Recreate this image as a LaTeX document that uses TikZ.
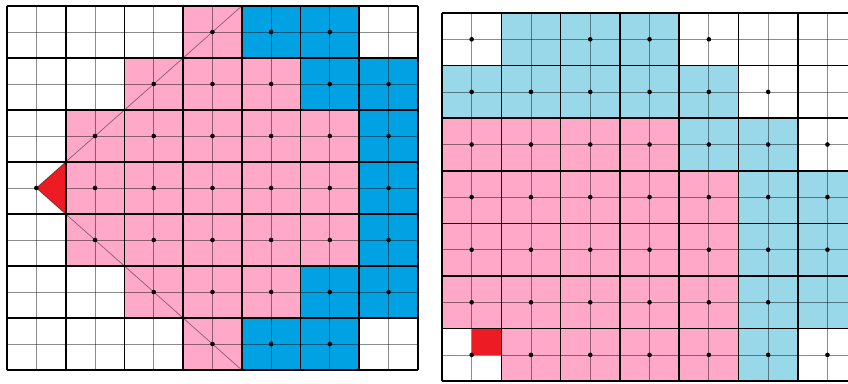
\documentclass[tikz,border=0pt]{standalone}
\usepackage{xcolor}
\usepackage{tikz}

\definecolor{P}{RGB}{255,168,200}
\definecolor{B}{RGB}{0,162,228}
\definecolor{L}{RGB}{153,216,232}
\colorlet{W}{white}
\definecolor{hit}{RGB}{237,28,36}

\begin{document}
\begin{tikzpicture}[
    heavy/.style={line width=1.6pt, black},
    fine/.style={line width=0.8pt, black, opacity=0.45},
    ray/.style={line width=0.7pt, black, opacity=0.45},
    spot/.style={black}
  ]
  \useasboundingbox (0,0) rectangle (848pt,-383pt);
  \clip (0,0) rectangle (848pt,-383pt);

  % left grid
  \begin{scope}[x=58.7pt, y=-52pt, shift={(7pt,-6pt)}]
    \foreach \cells [count=\row from 0] in {
        {W,W,W,P,B,B,W},
        {W,W,P,P,P,B,B},
        {W,P,P,P,P,P,B},
        {W,P,P,P,P,P,B},
        {W,P,P,P,P,P,B},
        {W,W,P,P,P,B,B},
        {W,W,W,P,B,B,W}}
      \foreach \fc [count=\col from 0] in \cells
        \fill[\fc] (\col,\row) rectangle ++(1,1);
    \foreach \k in {0.5,1.5,...,6.5} {
      \draw[fine] (\k,0) -- (\k,7);
      \draw[fine] (0,\k) -- (7,\k);
    }
    \coordinate (eye) at (0.5,3.5);
    \coordinate (rayup) at (4,0);
    \coordinate (raydown) at (4,7);
    \fill[hit] (eye) -- (1,3) -- (1,4) -- cycle;
    \draw[ray] (rayup) -- (eye) -- (raydown);
    \foreach \k in {0,...,7} {
      \draw[heavy] (\k,0) -- (\k,7);
      \draw[heavy] (0,\k) -- (7,\k);
    }
    \foreach \row/\cols in {0/{3,4,5}, 1/{2,...,6}, 2/{1,...,6}, 3/{0,...,6},
        4/{1,...,6}, 5/{2,...,6}, 6/{3,4,5}}
      \foreach \col in \cols
        \fill[spot] (\col+0.5,\row+0.5) circle (2.3pt);
  \end{scope}

  % right grid
  \begin{scope}[x=59.3pt, y=-52.6pt, shift={(442pt,-13pt)}]
    \foreach \cells [count=\row from 0] in {
        {W,L,L,L,W,W,W},
        {L,L,L,L,L,W,W},
        {P,P,P,P,L,L,W},
        {P,P,P,P,P,L,L},
        {P,P,P,P,P,L,L},
        {P,P,P,P,P,L,L},
        {W,P,P,P,P,L,W}}
      \foreach \fc [count=\col from 0] in \cells
        \fill[\fc] (\col,\row) rectangle ++(1,1);
    \foreach \k in {0.5,1.5,...,6.5} {
      \draw[fine] (\k,0) -- (\k,7);
      \draw[fine] (0,\k) -- (7,\k);
    }
    \fill[hit] (0.5,6) rectangle (1,6.5);
    \foreach \k in {0,...,7} {
      \draw[heavy] (\k,0) -- (\k,7);
      \draw[heavy] (0,\k) -- (7,\k);
    }
    \foreach \row/\cols in {0/{0,2,3,4}, 1/{0,...,5}, 2/{0,...,6}, 3/{0,...,6},
        4/{0,...,6}, 5/{0,...,5}, 6/{0,...,6}}
      \foreach \col in \cols
        \fill[spot] (\col+0.5,\row+0.5) circle (2.3pt);
  \end{scope}
\end{tikzpicture}
\end{document}
